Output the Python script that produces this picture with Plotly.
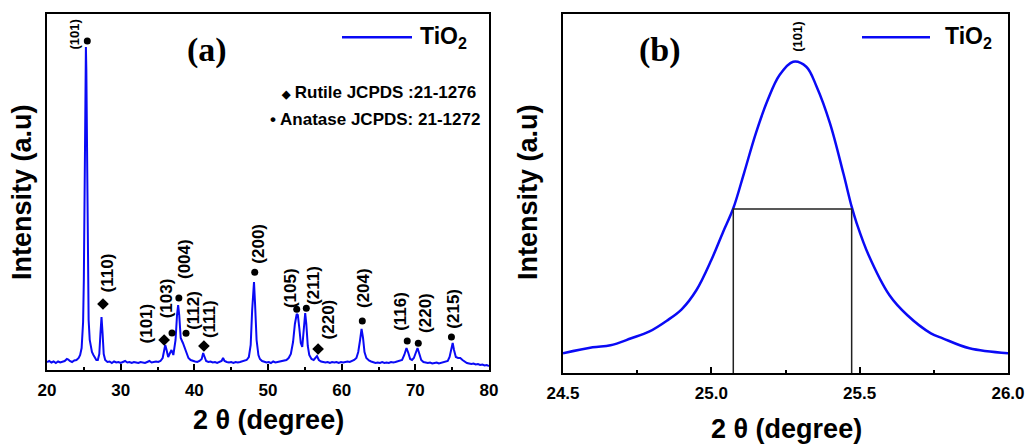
import plotly.graph_objects as go

# ---------------- Panel (a): XRD pattern ----------------
two_theta_a = [20.0, 20.3, 20.6, 20.9, 21.2, 21.5, 21.8, 22.1, 22.4, 22.7, 22.9, 23.1, 23.4, 23.7, 24.0, 24.3,
               24.5, 24.7, 24.9, 25.0, 25.07, 25.15, 25.22, 25.28, 25.34, 25.4, 25.47, 25.55, 25.65, 25.8, 25.95,
               26.1, 26.3, 26.5, 26.7, 26.9, 27.1, 27.25, 27.4, 27.55, 27.7, 27.9, 28.2, 28.5, 28.8, 29.1, 29.4,
               29.7, 30.0, 30.3, 30.6, 30.9, 31.2, 31.5, 31.8, 32.1, 32.4, 32.7, 33.0, 33.3, 33.6, 33.9, 34.2,
               34.5, 34.8, 35.1, 35.4, 35.7, 35.9, 36.05, 36.2, 36.45, 36.7, 36.9, 37.15, 37.45, 37.65, 37.8,
               37.95, 38.15, 38.45, 38.7, 38.95, 39.2, 39.5, 39.8, 40.1, 40.4, 40.7, 41.0, 41.2, 41.4, 41.6, 41.9,
               42.2, 42.5, 42.8, 43.1, 43.4, 43.7, 43.9, 44.1, 44.4, 44.7, 45.0, 45.3, 45.6, 45.9, 46.2, 46.5,
               46.8, 47.1, 47.4, 47.65, 47.85, 48.0, 48.1, 48.25, 48.45, 48.7, 48.9, 49.2, 49.5, 49.8, 50.1, 50.4,
               50.7, 51.0, 51.3, 51.6, 51.9, 52.2, 52.5, 52.8, 53.1, 53.4, 53.65, 53.9, 54.05, 54.25, 54.45, 54.65,
               54.85, 55.05, 55.2, 55.4, 55.6, 55.9, 56.2, 56.45, 56.65, 56.9, 57.2, 57.5, 57.8, 58.1, 58.4, 58.7,
               59.0, 59.3, 59.6, 59.9, 60.2, 60.5, 60.8, 61.1, 61.4, 61.7, 62.0, 62.25, 62.5, 62.7, 62.9, 63.1,
               63.35, 63.7, 64.0, 64.3, 64.6, 64.9, 65.2, 65.5, 65.8, 66.1, 66.4, 66.7, 67.0, 67.3, 67.6, 67.9,
               68.2, 68.5, 68.8, 69.05, 69.3, 69.55, 69.8, 70.05, 70.3, 70.55, 70.8, 71.1, 71.4, 71.7, 72.0, 72.3,
               72.6, 72.9, 73.2, 73.5, 73.8, 74.1, 74.4, 74.65, 74.9, 75.07, 75.25, 75.5, 75.8, 76.1, 76.4, 76.7,
               77.0, 77.3, 77.6, 77.9, 78.2, 78.5, 78.8, 79.1, 79.4, 79.7, 80.0]
intensity_a = [8, 9, 7.5, 8.5, 7, 8.5, 7.5, 8.5, 9, 11, 10.5, 9, 8, 9.5, 10, 12,
               15, 22, 48, 90, 150, 230, 295, 323, 300, 240, 160, 95, 50, 30, 22,
               18, 15, 12, 10, 10, 16, 36, 53, 36, 16, 10, 8, 8.5, 7, 8.5, 7.5,
               8, 7, 8, 9, 7.5, 8, 7, 8, 7.5, 7, 8, 7.5, 7, 8, 9, 7.5,
               8, 8.5, 8, 9, 12, 18, 25, 21, 13, 17, 20, 15, 30, 55, 65,
               55, 32, 27, 22, 16, 12, 10, 9, 8.5, 8, 9, 11, 17, 13, 9, 8,
               8.5, 7.5, 8, 7, 8, 9, 12, 9, 8, 7.5, 8, 7, 8, 7.5, 8, 8.5,
               9, 10, 13, 25, 60, 85, 88, 65, 30, 15, 11, 9, 8, 7.5, 8, 7,
               8.5, 7.5, 8, 8.5, 9, 9.5, 10, 12, 16, 28, 46, 56, 55, 42, 27, 23,
               38, 57, 46, 24, 15, 11, 10, 12, 14, 10, 8.5, 8, 7.5, 8, 7, 8,
               7.5, 8, 7, 8, 7.5, 8, 8.5, 8, 9, 10, 12, 18, 30, 41, 32, 18,
               12, 9.5, 8.5, 8, 7, 7.5, 7, 8, 7, 7.5, 7, 8, 7.5, 8, 8.5, 9,
               10, 15, 22, 17, 11, 10, 12, 17, 22, 16, 10, 8, 7.5, 7, 7.5, 6.5,
               7, 7.5, 6.5, 7, 7.5, 8, 9, 13, 22, 27, 20, 13, 12, 12, 10, 8,
               7, 6.5, 6, 6.5, 5.5, 6, 5, 5.5, 4.5, 5, 4]

# phase markers
rutile_x = [27.6, 35.9, 41.3, 56.8]
rutile_y = [66, 30, 24, 21]
anatase_x = [25.47, 36.97, 37.9, 38.87, 48.2, 53.9, 55.2, 62.8, 68.9, 70.4, 74.9]
anatase_y = [329, 37, 72, 36.7, 97.7, 60.7, 61.7, 49, 29, 26.7, 33]

# hkl labels
hkl_text = ["(110)", "(101)", "(103)", "(004)", "(112)", "(111)", "(200)", "(105)",
            "(211)", "(220)", "(204)", "(116)", "(220)", "(215)"]
hkl_x = [28.2, 33.5, 36.2, 38.6, 39.8, 42.0, 48.6, 53.0, 56.1, 58.2, 62.9, 67.9, 71.3, 75.07]
hkl_y = [97, 47, 72, 111, 60, 51, 126, 82, 85, 51, 82, 59, 57, 61]
main_hkl_text = "(101)"
main_hkl_x = 23.6
main_hkl_y = 335

# ---------------- Panel (b): (101) peak ----------------
two_theta_b = [24.50, 24.60, 24.66, 24.73, 24.79, 24.85, 24.90, 24.95, 25.00, 25.04, 25.074, 25.11,
               25.15, 25.19, 25.23, 25.276, 25.32, 25.355, 25.40, 25.445, 25.473, 25.49, 25.53, 25.60,
               25.66, 25.74, 25.78, 25.87, 26.0]
intensity_b = [19.7, 25.7, 27.7, 34.7, 41.3, 52.3, 63.7, 83, 113, 141.3, 164.7, 199.7,
               239.7, 273, 298, 311.3, 306.3, 286.3, 249.7, 199.7, 166.3, 149.7, 118, 78,
               58, 39.7, 34.7, 24.7, 19.7]
fwhm_left = 25.074
fwhm_right = 25.473
half_max = 164
peak_label_x = 25.288
peak_label_y = 336

FONT = "Liberation Sans, Arial, sans-serif"
BLUE = "#0a0af5"

fig = go.Figure()

fig.add_trace(go.Scatter(x=two_theta_a, y=intensity_a, mode="lines",
                         line=dict(color=BLUE, width=2), xaxis="x", yaxis="y", showlegend=False))
fig.add_trace(go.Scatter(x=rutile_x, y=rutile_y, mode="markers",
                         marker=dict(symbol="diamond", size=9, color="black"),
                         xaxis="x", yaxis="y", showlegend=False))
fig.add_trace(go.Scatter(x=anatase_x, y=anatase_y, mode="markers",
                         marker=dict(symbol="circle", size=7, color="black"),
                         xaxis="x", yaxis="y", showlegend=False))

fig.add_trace(go.Scatter(x=two_theta_b, y=intensity_b, mode="lines", line_shape="spline",
                         line=dict(color=BLUE, width=2.5), xaxis="x2", yaxis="y2", showlegend=False))
fig.add_trace(go.Scatter(x=[fwhm_left, fwhm_left, fwhm_right, fwhm_right], y=[0, half_max, half_max, 0],
                         mode="lines", line=dict(color="#222222", width=1.5),
                         xaxis="x2", yaxis="y2", showlegend=False))

annotations = []
for t, xx, yy in zip(hkl_text, hkl_x, hkl_y):
    annotations.append(dict(text=t, x=xx, y=yy, xref="x", yref="y", textangle=-90, showarrow=False,
                            xanchor="center", yanchor="middle",
                            font=dict(family=FONT, size=17, color="black", weight="bold")))
annotations.append(dict(text=main_hkl_text, x=main_hkl_x, y=main_hkl_y, xref="x", yref="y", textangle=-90,
                        showarrow=False, xanchor="center", yanchor="middle",
                        font=dict(family=FONT, size=13, color="black", weight="bold")))
annotations.append(dict(text=main_hkl_text, x=peak_label_x, y=peak_label_y, xref="x2", yref="y2", textangle=-90,
                        showarrow=False, xanchor="center", yanchor="middle",
                        font=dict(family=FONT, size=13, color="black", weight="bold")))

W, H = 1026, 444


def px(xp):
    return xp / W


def py(yp):
    return 1 - yp / H


# panel labels
annotations.append(dict(text="(a)", x=px(207), y=py(50), xref="paper", yref="paper", showarrow=False,
                        xanchor="center", yanchor="middle",
                        font=dict(family="Liberation Serif, Times New Roman, serif", size=34, color="black",
                                  weight="bold")))
annotations.append(dict(text="(b)", x=px(660), y=py(50), xref="paper", yref="paper", showarrow=False,
                        xanchor="center", yanchor="middle",
                        font=dict(family="Liberation Serif, Times New Roman, serif", size=34, color="black",
                                  weight="bold")))
# legends
for lx, ty in [(418, 37), (943, 37)]:
    annotations.append(dict(text="TiO<sub>2</sub>", x=px(lx), y=py(ty), xref="paper", yref="paper",
                            xanchor="left", yanchor="middle", showarrow=False,
                            font=dict(family=FONT, size=23, color="black", weight="bold")))
annotations.append(dict(text="<span style='font-size:11px'>◆</span> Rutile JCPDS :21-1276", x=px(478), y=py(92),
                        xref="paper", yref="paper",
                        xanchor="right", yanchor="middle", showarrow=False,
                        font=dict(family=FONT, size=17, color="black", weight="bold")))
annotations.append(dict(text="• Anatase JCPDS: 21-1272", x=px(482), y=py(119), xref="paper", yref="paper",
                        xanchor="right", yanchor="middle", showarrow=False,
                        font=dict(family=FONT, size=17, color="black", weight="bold")))
# axis titles
for cx in [22, 528]:
    annotations.append(dict(text="Intensity (a.u)", x=px(cx), y=py(192), xref="paper", yref="paper",
                            textangle=-90, showarrow=False, xanchor="center", yanchor="middle",
                            font=dict(family=FONT, size=27, color="black", weight="bold")))
for cx, cy in [(268, 420), (786, 429)]:
    annotations.append(dict(text="2 θ (degree)", x=px(cx), y=py(cy), xref="paper", yref="paper",
                            showarrow=False, xanchor="center", yanchor="middle",
                            font=dict(family=FONT, size=27, color="black", weight="bold")))

shapes = []
for x0, x1 in [(342, 412), (862, 930)]:
    shapes.append(dict(type="line", xref="paper", yref="paper", x0=px(x0), x1=px(x1), y0=py(37.3), y1=py(37.3),
                       line=dict(color=BLUE, width=2.5)))

axis_common = dict(showline=True, linecolor="black", linewidth=2, mirror=True, showgrid=False, zeroline=False,
                   automargin=False)
tickfont = dict(family=FONT, size=17, color="black", weight="bold")

fig.update_layout(
    width=W, height=H, margin=dict(l=0, r=0, t=0, b=0, pad=0, autoexpand=False),
    paper_bgcolor="white", plot_bgcolor="white",
    xaxis=dict(domain=[px(47), px(489)], range=[20, 80], tickvals=[20, 30, 40, 50, 60, 70, 80],
               ticks="inside", ticklen=6, tickwidth=2, tickcolor="black", tickfont=tickfont,
               ticklabelstandoff=4,
               minor=dict(tickvals=[25, 35, 45, 55, 65, 75], ticks="inside", ticklen=3, tickwidth=1.5,
                          tickcolor="black"),
               anchor="y", **axis_common),
    yaxis=dict(domain=[1 - 370 / H, 1 - 14 / H], range=[0, 356], showticklabels=False, ticks="",
               anchor="x", **axis_common),
    xaxis2=dict(domain=[px(563), px(1008)], range=[24.5, 26.0], tickvals=[24.5, 25.0, 25.5, 26.0],
                ticktext=["24.5", "25.0", "25.5", "26.0"],
                ticks="inside", ticklen=6, tickwidth=2, tickcolor="black", tickfont=tickfont,
                ticklabelstandoff=4,
                minor=dict(tickvals=[24.75, 25.25, 25.75], ticks="inside", ticklen=3, tickwidth=1.5,
                           tickcolor="black"),
                anchor="y2", **axis_common),
    yaxis2=dict(domain=[1 - 373 / H, 1 - 14 / H], range=[0, 359], showticklabels=False, ticks="",
                anchor="x2", **axis_common),
    annotations=annotations, shapes=shapes, showlegend=False,
)

fig.write_html("out.html")
